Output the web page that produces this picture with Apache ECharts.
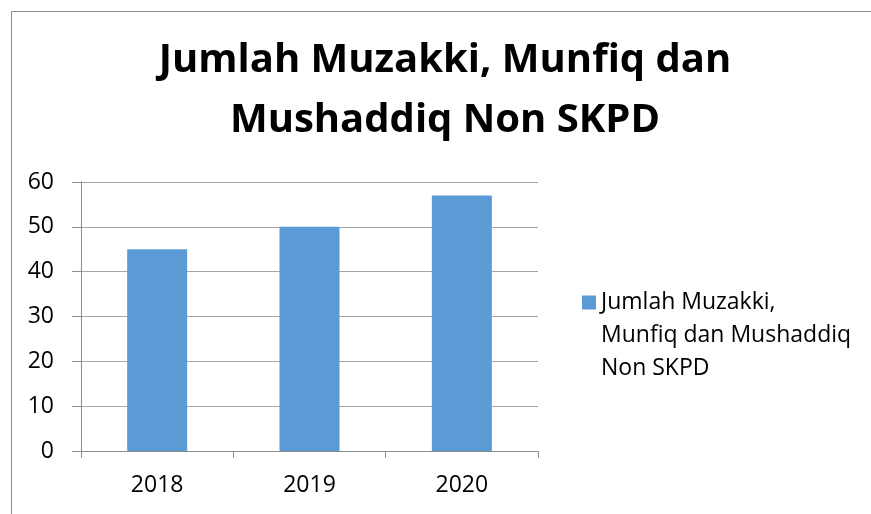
<!DOCTYPE html>
<html>
<head>
<meta charset="utf-8">
<title>Jumlah Muzakki, Munfiq dan Mushaddiq Non SKPD</title>
<script src="https://cdn.jsdelivr.net/npm/echarts@6/dist/echarts.min.js"></script>
<style>
  html, body { margin: 0; padding: 0; background: #fff; }
  #chart { width: 871px; height: 514px; }
</style>
</head>
<body>
<div id="chart"></div>
<script>
// data
const years = ['2018', '2019', '2020'];
const seriesName = 'Jumlah Muzakki, Munfiq dan Mushaddiq Non SKPD';
const legendLines = ['Jumlah Muzakki,', 'Munfiq dan Mushaddiq', 'Non SKPD'];
const counts = [45, 50, 57];
const yTicks = { min: 0, max: 60, interval: 10 };

const myChart = echarts.init(document.getElementById('chart'), null, { renderer: 'canvas' });
const fontFam = '"Open Sans", Lato, sans-serif';
const axisGray = '#8c8c8c';

const option = {
  animation: false,
  backgroundColor: '#fff',
  title: {
    text: 'Jumlah Muzakki, Munfiq dan\nMushaddiq Non SKPD',
    left: 445,
    textAlign: 'center',
    top: 31,
    padding: 0,
    textStyle: {
      fontFamily: fontFam,
      fontSize: 40,
      fontWeight: 'bold',
      lineHeight: 60,
      color: '#000'
    }
  },
  legend: {
    left: 577,
    top: 215,
    itemWidth: 14,
    itemHeight: 14,
    icon: 'rect',
    data: [seriesName],
    // two blank lines on top so the icon sits beside the first line
    formatter: function () {
      return '\n\n' + legendLines.join('\n');
    },
    textStyle: {
      fontFamily: fontFam,
      fontSize: 23,
      lineHeight: 33,
      color: '#000'
    }
  },
  grid: {
    left: 81,
    right: 333,
    top: 182,
    bottom: 63,
    containLabel: false
  },
  xAxis: {
    type: 'category',
    data: years,
    axisLine: { show: true, lineStyle: { color: axisGray, width: 1 } },
    axisTick: { show: true, length: 7, lineStyle: { color: axisGray } },
    axisLabel: { margin: 23, fontFamily: fontFam, fontSize: 23, color: '#000' },
    splitLine: { show: false }
  },
  yAxis: {
    type: 'value',
    min: yTicks.min,
    max: yTicks.max,
    interval: yTicks.interval,
    axisLine: { show: true, lineStyle: { color: axisGray, width: 1 } },
    axisTick: { show: true, length: 9, lineStyle: { color: axisGray } },
    axisLabel: { margin: 27, fontFamily: fontFam, fontSize: 23, color: '#000' },
    splitLine: { show: true, lineStyle: { color: '#a6a6a6', width: 1 } }
  },
  series: [
    {
      name: seriesName,
      type: 'bar',
      data: counts,
      barWidth: 60,
      itemStyle: { color: '#5b9bd5' }
    }
  ],
  graphic: [
    // frame of the chart area (left and top edges)
    {
      type: 'polyline',
      silent: true,
      shape: { points: [[11.5, 514], [11.5, 11.5], [871, 11.5]] },
      style: { stroke: '#8c8c8c', lineWidth: 1, fill: null }
    }
  ]
};

myChart.setOption(option);
</script>
</body>
</html>
